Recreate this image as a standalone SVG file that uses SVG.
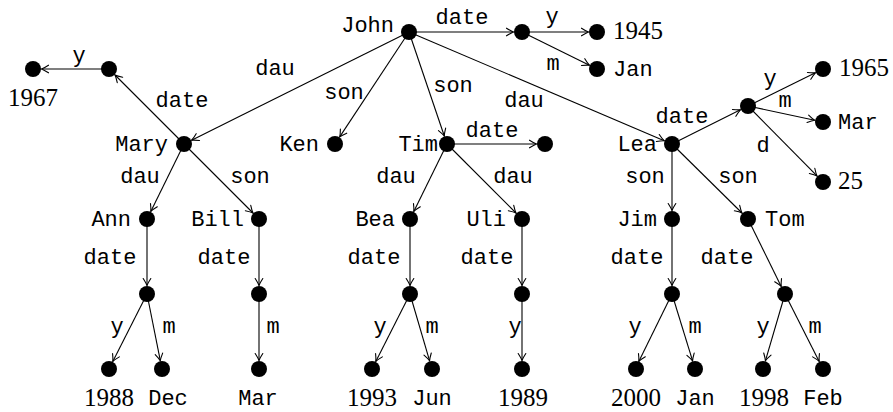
<svg xmlns="http://www.w3.org/2000/svg" width="893" height="412" viewBox="0 0 893 412">
  <style>
    .bg { fill: #ffffff; }
    .edge { stroke: #000; stroke-width: 1.1; fill: none; marker-end: url(#arrow); }
    .dot { fill: #000; }
    .tt { font-family: "Liberation Mono", "DejaVu Sans Mono", monospace; font-size: 22px; fill: #000; }
    .rm { font-family: "Liberation Serif", "DejaVu Serif", serif; font-size: 25px; fill: #000; }
    .mid { text-anchor: middle; }
    .end { text-anchor: end; }
  </style>
  <defs>
    <marker id="arrow" markerUnits="userSpaceOnUse" markerWidth="12" markerHeight="12" refX="0" refY="0" viewBox="-9 -6 10 12" orient="auto" overflow="visible">
      <path d="M-7,-3.8 Q-2.5,-0.9 0,0 Q-2.5,0.9 -7,3.8" stroke="#000" stroke-width="1.1" fill="none" stroke-linecap="round"/>
    </marker>
  </defs>
  <rect class="bg" x="0" y="0" width="893" height="412"/>

  <!-- connectors and their labels -->
  <g id="connectors">
    <line class="edge" x1="409" y1="32" x2="513.5" y2="32"/>
    <line class="edge" x1="522" y1="32" x2="588.5" y2="32"/>
    <line class="edge" x1="522" y1="32" x2="589.4" y2="65.2"/>
    <line class="edge" x1="409" y1="32" x2="191.6" y2="140.2"/>
    <line class="edge" x1="184" y1="144" x2="115" y2="75"/>
    <line class="edge" x1="109" y1="69" x2="41.5" y2="69"/>
    <line class="edge" x1="409" y1="32" x2="339.7" y2="136.9"/>
    <line class="edge" x1="409" y1="32" x2="444.3" y2="136"/>
    <line class="edge" x1="409" y1="32" x2="664.2" y2="140.7"/>
    <line class="edge" x1="447" y1="144" x2="536.5" y2="144"/>
    <line class="edge" x1="672" y1="144" x2="740.4" y2="109.8"/>
    <line class="edge" x1="748" y1="106" x2="815.4" y2="72.8"/>
    <line class="edge" x1="748" y1="106" x2="814.7" y2="120.2"/>
    <line class="edge" x1="748" y1="106" x2="817" y2="175.9"/>
    <line class="edge" x1="184" y1="144" x2="150.8" y2="211.4"/>
    <line class="edge" x1="184" y1="144" x2="253" y2="213"/>
    <line class="edge" x1="147" y1="219" x2="147" y2="285.5"/>
    <line class="edge" x1="259" y1="219" x2="259" y2="285.5"/>
    <line class="edge" x1="147" y1="294" x2="112.8" y2="361.4"/>
    <line class="edge" x1="147" y1="294" x2="160.3" y2="360.7"/>
    <line class="edge" x1="259" y1="294" x2="259" y2="360.5"/>
    <line class="edge" x1="447" y1="144" x2="413.8" y2="211.4"/>
    <line class="edge" x1="447" y1="144" x2="516" y2="213"/>
    <line class="edge" x1="410" y1="219" x2="410" y2="285.5"/>
    <line class="edge" x1="522" y1="219" x2="522" y2="285.5"/>
    <line class="edge" x1="410" y1="294" x2="375.8" y2="361.4"/>
    <line class="edge" x1="410" y1="294" x2="429.6" y2="360.8"/>
    <line class="edge" x1="522" y1="294" x2="522" y2="360.5"/>
    <line class="edge" x1="672" y1="144" x2="672" y2="210.5"/>
    <line class="edge" x1="672" y1="144" x2="742" y2="213"/>
    <line class="edge" x1="672" y1="219" x2="672" y2="285.5"/>
    <line class="edge" x1="748" y1="219" x2="781.2" y2="286.4"/>
    <line class="edge" x1="672" y1="294" x2="638.8" y2="361.4"/>
    <line class="edge" x1="672" y1="294" x2="692.6" y2="360.9"/>
    <line class="edge" x1="785" y1="294" x2="765.4" y2="360.8"/>
    <line class="edge" x1="785" y1="294" x2="819.2" y2="361.4"/>

    <g class="tt mid">
      <text x="462" y="24">date</text>
      <text x="552" y="23">y</text>
      <text x="553" y="70">m</text>
      <text x="275" y="75">dau</text>
      <text x="79" y="62">y</text>
      <text x="182" y="107">date</text>
      <text x="344" y="99">son</text>
      <text x="453" y="92">son</text>
      <text x="524" y="107">dau</text>
      <text x="492" y="137">date</text>
      <text x="682" y="123">date</text>
      <text x="770" y="85">y</text>
      <text x="785" y="107">m</text>
      <text x="763" y="152">d</text>
      <text x="140" y="183">dau</text>
      <text x="250" y="183">son</text>
      <text x="396" y="183">dau</text>
      <text x="513" y="183">dau</text>
      <text x="645" y="183">son</text>
      <text x="738" y="183">son</text>
      <text x="110" y="264">date</text>
      <text x="224" y="264">date</text>
      <text x="374" y="264">date</text>
      <text x="487" y="264">date</text>
      <text x="637" y="264">date</text>
      <text x="727" y="264">date</text>
      <text x="117" y="333">y</text>
      <text x="169" y="333">m</text>
      <text x="273" y="333">m</text>
      <text x="380" y="333">y</text>
      <text x="432" y="333">m</text>
      <text x="515" y="333">y</text>
      <text x="635" y="333">y</text>
      <text x="695" y="333">m</text>
      <text x="763" y="333">y</text>
      <text x="815" y="333">m</text>
    </g>
  </g>

  <!-- nodes -->
  <g id="n-john"><circle class="dot" cx="409" cy="32" r="8"/><text class="tt end" x="394" y="32">John</text></g>
  <g id="n-john-date"><circle class="dot" cx="522" cy="32" r="8"/></g>
  <g id="n-1945"><circle class="dot" cx="597" cy="32" r="8"/><text class="rm" x="613" y="39">1945</text></g>
  <g id="n-jan-top"><circle class="dot" cx="597" cy="69" r="8"/><text class="tt" x="613" y="76">Jan</text></g>

  <g id="n-mary"><circle class="dot" cx="184" cy="144" r="8"/><text class="tt end" x="168" y="151">Mary</text></g>
  <g id="n-mary-date"><circle class="dot" cx="109" cy="69" r="8"/></g>
  <g id="n-1967"><circle class="dot" cx="33" cy="69" r="8"/><text class="rm mid" x="33" y="106">1967</text></g>
  <g id="n-ken"><circle class="dot" cx="335" cy="144" r="8"/><text class="tt end" x="319" y="151">Ken</text></g>
  <g id="n-tim"><circle class="dot" cx="447" cy="144" r="8"/><text class="tt end" x="438" y="151">Tim</text></g>
  <g id="n-tim-date"><circle class="dot" cx="545" cy="144" r="8"/></g>
  <g id="n-lea"><circle class="dot" cx="672" cy="144" r="8"/><text class="tt end" x="657" y="151">Lea</text></g>
  <g id="n-lea-date"><circle class="dot" cx="748" cy="106" r="8"/></g>
  <g id="n-1965"><circle class="dot" cx="823" cy="69" r="8"/><text class="rm" x="839" y="76">1965</text></g>
  <g id="n-mar-top"><circle class="dot" cx="823" cy="122" r="8"/><text class="tt" x="838" y="129">Mar</text></g>
  <g id="n-25"><circle class="dot" cx="823" cy="182" r="8"/><text class="rm" x="838" y="189">25</text></g>

  <g id="n-ann"><circle class="dot" cx="147" cy="219" r="8"/><text class="tt end" x="131" y="226">Ann</text></g>
  <g id="n-bill"><circle class="dot" cx="259" cy="219" r="8"/><text class="tt end" x="244" y="226">Bill</text></g>
  <g id="n-bea"><circle class="dot" cx="410" cy="219" r="8"/><text class="tt end" x="395" y="226">Bea</text></g>
  <g id="n-uli"><circle class="dot" cx="522" cy="219" r="8"/><text class="tt end" x="506" y="226">Uli</text></g>
  <g id="n-jim"><circle class="dot" cx="672" cy="219" r="8"/><text class="tt end" x="657" y="226">Jim</text></g>
  <g id="n-tom"><circle class="dot" cx="748" cy="219" r="8"/><text class="tt" x="765" y="226">Tom</text></g>

  <g id="n-ann-date"><circle class="dot" cx="147" cy="294" r="8"/></g>
  <g id="n-bill-date"><circle class="dot" cx="259" cy="294" r="8"/></g>
  <g id="n-bea-date"><circle class="dot" cx="410" cy="294" r="8"/></g>
  <g id="n-uli-date"><circle class="dot" cx="522" cy="294" r="8"/></g>
  <g id="n-jim-date"><circle class="dot" cx="672" cy="294" r="8"/></g>
  <g id="n-tom-date"><circle class="dot" cx="785" cy="294" r="8"/></g>

  <!-- bottom row: leaf values -->
  <g id="n-1988"><circle class="dot" cx="109" cy="369" r="8"/><text class="rm mid" x="109" y="406">1988</text></g>
  <g id="n-dec"><circle class="dot" cx="162" cy="369" r="8"/><text class="tt mid" x="168" y="405">Dec</text></g>
  <g id="n-mar"><circle class="dot" cx="259" cy="369" r="8"/><text class="tt mid" x="258" y="405">Mar</text></g>
  <g id="n-1993"><circle class="dot" cx="372" cy="369" r="8"/><text class="rm mid" x="372" y="406">1993</text></g>
  <g id="n-jun"><circle class="dot" cx="432" cy="369" r="8"/><text class="tt mid" x="432" y="405">Jun</text></g>
  <g id="n-1989"><circle class="dot" cx="522" cy="369" r="8"/><text class="rm mid" x="523" y="406">1989</text></g>
  <g id="n-2000"><circle class="dot" cx="636" cy="369" r="8"/><text class="rm mid" x="636" y="406">2000</text></g>
  <g id="n-jan"><circle class="dot" cx="695" cy="369" r="8"/><text class="tt mid" x="695" y="405">Jan</text></g>
  <g id="n-1998"><circle class="dot" cx="763" cy="369" r="8"/><text class="rm mid" x="764" y="406">1998</text></g>
  <g id="n-feb"><circle class="dot" cx="823" cy="369" r="8"/><text class="tt mid" x="823" y="405">Feb</text></g>
</svg>
